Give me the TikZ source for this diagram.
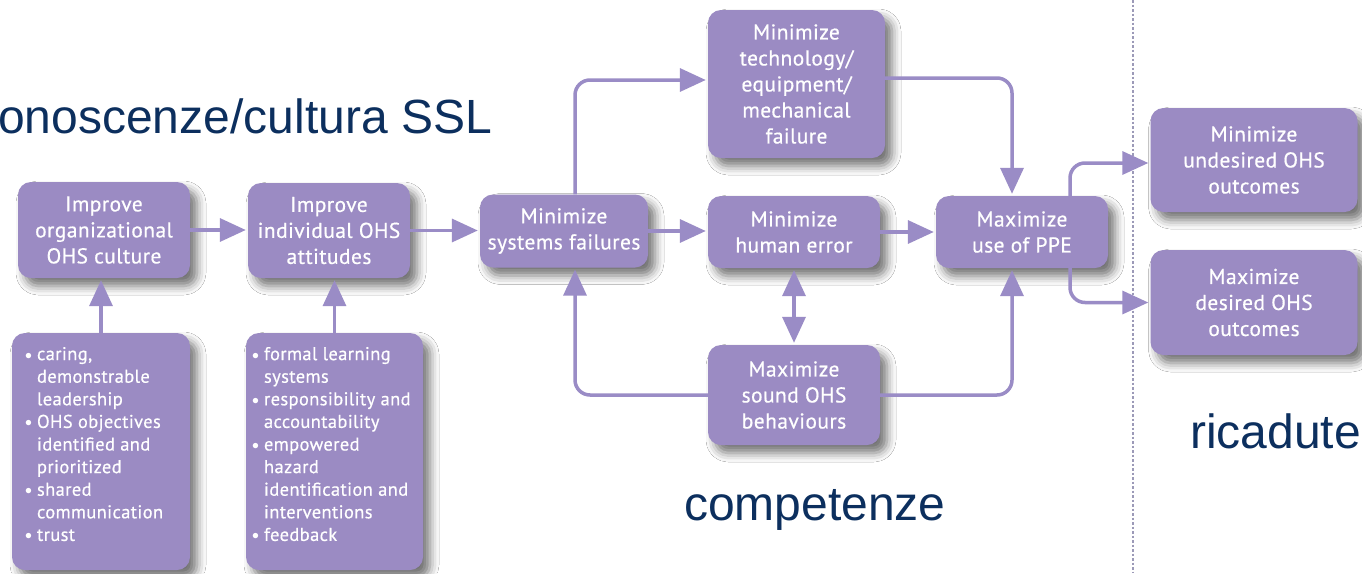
\documentclass[tikz,border=0pt]{standalone}
\usepackage{fontspec}
\setmainfont{PT Sans}
\newfontfamily\boxfont{PT Sans}[FakeBold=0.5,LetterSpace=2]
\newfontfamily\annfont{Liberation Sans}
\usetikzlibrary{arrows.meta,calc,shadows.blur}
\definecolor{boxc}{HTML}{9B8BC3}
\definecolor{linec}{HTML}{9A8CC6}
\definecolor{navy}{HTML}{0C2F5E}
\definecolor{dotc}{HTML}{9C9AB8}
\newcommand\bul{\makebox[12pt][l]{\raisebox{0.05em}{\scalebox{0.8}{$\bullet$}}}}
\newcommand\ind{\hspace*{12pt}}
\tikzset{
 box/.style={rounded corners=13pt, fill=boxc, text=white, align=center, inner sep=0pt,
   font=\boxfont\fontsize{21.5}{26}\selectfont,
   blur shadow={shadow xshift=7pt, shadow yshift=-8pt, shadow blur radius=9pt, shadow opacity=55}},
 btext/.style={text=white, align=left, inner sep=0pt, anchor=north west, font=\boxfont\fontsize{18.5}{22.6}\selectfont},
 arr/.style={draw=linec, line width=3.5pt, rounded corners=15pt, -{Triangle[length=26pt,width=23pt]}, shorten >=2pt},
 darr/.style={arr, {Triangle[length=26pt,width=23pt]}-{Triangle[length=26pt,width=23pt]}, shorten <=2pt},
 ann/.style={text=navy, font=\annfont\fontsize{48}{52}\selectfont, inner sep=0pt, anchor=base west},
 divider/.style={draw=dotc, line width=2pt, dash pattern=on 2.5pt off 2pt},
}
\begin{document}
\begin{tikzpicture}[x=1pt,y=-1pt]
\useasboundingbox (0,0) rectangle (1362,573);
\fill[white] (0,0) rectangle (1362,573);
% divider
\coordinate (dtop) at (1133,0);
\coordinate (dbot) at (1133,573);
\draw[divider] (dtop) -- (dbot);
% boxes
\node[box, minimum width=172pt, minimum height=96pt] (A) at (104,230) {Improve\\organizational\\OHS culture};
\node[box, minimum width=162pt, minimum height=95pt] (B) at (329,230.5) {Improve\\individual OHS\\attitudes};
\node[box, minimum width=168pt, minimum height=73pt] (C) at (564,231) {Minimize\\systems failures};
\node[box, minimum width=177pt, minimum height=148pt] (T) at (796.5,84) {Minimize\\technology/\\equipment/\\mechanical\\failure};
\node[box, minimum width=172pt, minimum height=72pt] (H) at (794,232) {Minimize\\human error};
\node[box, minimum width=172pt, minimum height=72pt] (P) at (1022,232) {Maximize\\use of PPE};
\node[box, minimum width=172pt, minimum height=100pt] (S) at (794,395) {Maximize\\sound OHS\\behaviours};
\node[box, minimum width=207pt, minimum height=104pt] (U) at (1254,160) {Minimize\\undesired OHS\\outcomes};
\node[box, minimum width=207pt, minimum height=105pt] (D) at (1254,302.5) {Maximize\\desired OHS\\outcomes};
\node[box, minimum width=178pt, minimum height=237pt] (L1) at (101,451.5) {};
\node[box, minimum width=177pt, minimum height=237pt] (L2) at (334.5,451.5) {};
\node[btext] (L1t) at ($(L1.north west)+(13,14)$) {\bul caring,\\ \ind demonstrable\\ \ind leadership\\ \bul OHS objectives\\ \ind identified and\\ \ind prioritized\\ \bul shared\\ \ind communication\\ \bul trust};
\node[btext] (L2t) at ($(L2.north west)+(6,14)$) {\bul formal learning\\ \ind systems\\ \bul responsibility and\\ \ind accountability\\ \bul empowered\\ \ind hazard\\ \ind identification and\\ \ind interventions\\ \bul feedback};
% annotations
\node[ann] (k1) at (-2,133) {onoscenze/cultura SSL};
\node[ann] (k2) at (684,520) {competenze};
\node[ann] (k3) at (1190,448) {ricadute};
% connectors
\draw[arr] (A.east) -- (A.east -| B.west);
\draw[arr] (B.east) -- (B.east -| C.west);
\draw[arr] (C.east) -- (C.east -| H.west);
\draw[arr] (H.east) -- (H.east -| P.west);
\draw[arr] ($(C.north)+(11,0)$) |- ($(T.west)+(0,-4)$);
\draw[arr] ($(T.east)+(0,-6)$) -| ($(P.north)+(-10,0)$);
\draw[darr] (H.south) -- (H.south |- S.north);
\draw[arr] (S.west) -| ($(C.south)+(11,0)$);
\draw[arr] (S.east) -| ($(P.south)+(-10,0)$);
\draw[arr] ($(P.north)+(48,0)$) |- ($(U.west)+(0,3)$);
\draw[arr] ($(P.south)+(48,0)$) |- (D.west);
\draw[arr] (L1.north) -- (L1.north |- A.south);
\draw[arr] (L2.north) -- (L2.north |- B.south);
\end{tikzpicture}
\end{document}
